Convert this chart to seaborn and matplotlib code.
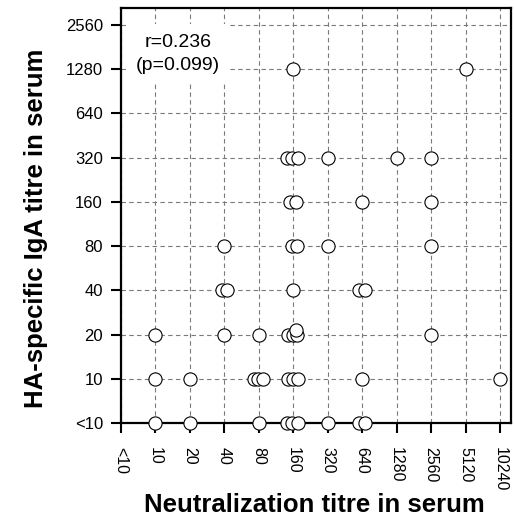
import matplotlib
matplotlib.use("Agg")
import matplotlib.pyplot as plt
import seaborn as sns
import pandas as pd

# ---- data ----
x_ticks = ["<10", "10", "20", "40", "80", "160", "320", "640", "1280", "2560", "5120", "10240"]
y_ticks = ["<10", "10", "20", "40", "80", "160", "320", "640", "1280", "2560"]

neut_titre = ["10", "20", "80", "160", "160", "160", "320", "640", "640",
              "10", "20", "80", "80", "80", "160", "160", "160", "640", "10240",
              "10", "40", "80", "160", "160", "160", "160", "2560",
              "40", "40", "160", "640", "640",
              "40", "160", "160", "320", "2560",
              "160", "160", "640", "2560",
              "160", "160", "160", "320", "1280", "2560",
              "160", "5120"]
iga_titre = ["<10"] * 9 + ["10"] * 10 + ["20"] * 8 + ["40"] * 5 + ["80"] * 5 + \
            ["160"] * 4 + ["320"] * 6 + ["1280"] * 2
# small horizontal / vertical jitter of overlapping points (category units)
jitter_x = [0, 0, 0, -0.17, -0.03, 0.14, 0, -0.10, 0.08,
            0, 0, -0.14, -0.01, 0.12, -0.15, -0.01, 0.14, 0, 0,
            0, 0, 0, -0.15, -0.01, 0.12, 0.08, 0,
            -0.06, 0.08, 0, -0.09, 0.08,
            0, -0.05, 0.10, 0, 0,
            -0.10, 0.08, 0, 0,
            -0.18, -0.03, 0.13, 0, 0, 0,
            0, 0]
jitter_y = [0] * 25 + [0.1] + [0] * 23

r_text = "r=0.236\n(p=0.099)"
x_label = "Neutralization titre in serum"
y_label = "HA-specific IgA titre in serum"

df = pd.DataFrame({
    "x": [x_ticks.index(v) + d for v, d in zip(neut_titre, jitter_x)],
    "y": [y_ticks.index(v) + d for v, d in zip(iga_titre, jitter_y)],
})

# ---- style ----
sns.set_style("ticks")
plt.rcParams["font.family"] = ["Liberation Sans", "DejaVu Sans"]
plt.rcParams["text.color"] = "black"
plt.rcParams["axes.labelcolor"] = "black"
plt.rcParams["xtick.color"] = "black"
plt.rcParams["ytick.color"] = "black"

fig = plt.figure(figsize=(5.14, 5.23), dpi=100)
ax = fig.add_axes([121 / 514, 100 / 523, 390 / 514, 415 / 523])

ax.set_xlim(0, 11.32)
ax.set_ylim(0, 9.38)
ax.set_xticks(range(len(x_ticks)))
ax.set_xticklabels(x_ticks, rotation=-90, fontsize=11.5)
ax.set_yticks(range(len(y_ticks)))
ax.set_yticklabels(y_ticks, fontsize=12)
ax.tick_params(axis="both", direction="out", length=7, width=1.5, color="black",
               labelcolor="black")
ax.tick_params(axis="x", pad=10)
ax.tick_params(axis="y", pad=6)

ax.grid(True, color="#7a7a7a", linestyle=(0, (4, 3)), linewidth=0.8)
ax.set_axisbelow(True)
for s in ax.spines.values():
    s.set_visible(True)
    s.set_linewidth(1.6)
    s.set_color("black")

sns.scatterplot(data=df, x="x", y="y", ax=ax, s=90, facecolor="white",
                edgecolor="black", linewidth=0.8, clip_on=False, zorder=5,
                legend=False)

ax.text(1.65, 8.34, r_text, ha="center", va="center", fontsize=14,
        linespacing=1.45, zorder=4,
        bbox=dict(facecolor="white", edgecolor="none", pad=7))

ax.set_xlabel(x_label, fontsize=18.5, fontweight="bold")
ax.set_ylabel(y_label, fontsize=18.5, fontweight="bold")
ax.xaxis.set_label_coords(0.495, -0.169)
ax.yaxis.set_label_coords(-0.187, 0.47)

fig.savefig("out.png", dpi=100)
